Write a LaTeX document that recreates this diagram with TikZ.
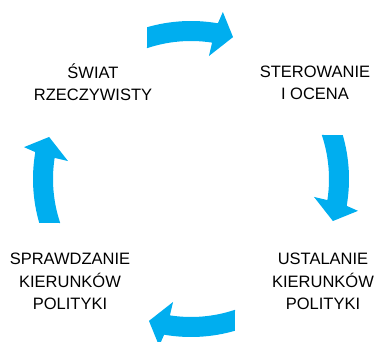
\documentclass[tikz,border=0pt]{standalone}
\usepackage{fontspec}
\setmainfont{Liberation Sans}
\definecolor{arrowblue}{RGB}{0,174,239}
\tikzset{
  lbl/.style={font=\fontsize{16.5}{22.5}\selectfont, align=center, inner sep=0pt, anchor=south, text=black},
  cyclearrow/.pic={
    \fill[arrowblue] (106.1:158pt) arc[start angle=106.1, end angle=80.2, radius=158pt]
      -- (79.2:170pt) -- (73.5:148pt) -- (81.7:124.3pt) -- (81.2:138pt)
      arc[start angle=81.2, end angle=108.6, radius=138pt] -- cycle;
  }
}
\begin{document}
\begin{tikzpicture}[x=1pt,y=1pt]
  \useasboundingbox (0,0) rectangle (391,342);
  \coordinate (ctr) at (191,163);
  \pic (arrtop) at (ctr) {cyclearrow};
  \pic[rotate=-90] (arrright) at (ctr) {cyclearrow};
  \pic[rotate=-180] (arrbottom) at (ctr) {cyclearrow};
  \pic[rotate=-270] (arrleft) at (ctr) {cyclearrow};
  \node[lbl] (world) at (93,241) {ŚWIAT\\RZECZYWISTY};
  \node[lbl] (steer) at (315,242) {STEROWANIE\\I OCENA};
  \node[lbl] (set) at (323,32) {USTALANIE\\KIERUNKÓW\\POLITYKI};
  \node[lbl] (check) at (70,32) {SPRAWDZANIE\\KIERUNKÓW\\POLITYKI};
\end{tikzpicture}
\end{document}
